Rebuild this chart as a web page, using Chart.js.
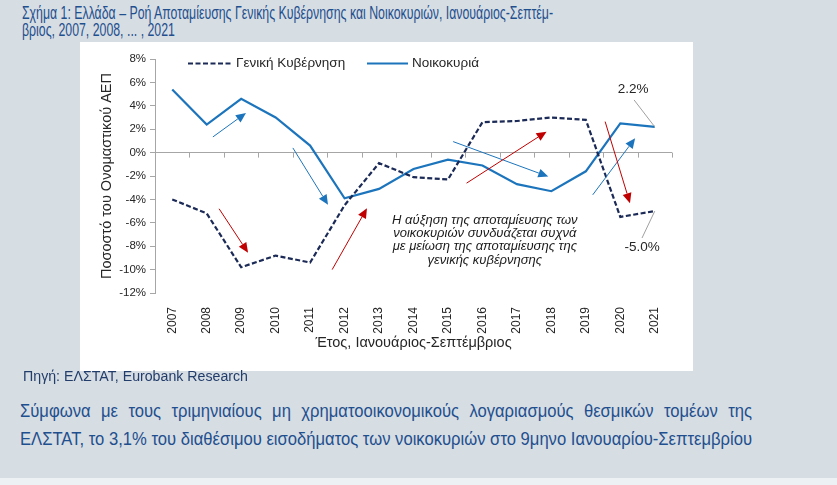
<!DOCTYPE html>
<html>
<head>
<meta charset="utf-8">
<script src="https://cdn.jsdelivr.net/npm/chart.js@4.4.0/dist/chart.umd.min.js"></script>
<style>
  html, body { margin: 0; padding: 0; }
  body { width: 837px; height: 485px; background: #d6dde3; position: relative; overflow: hidden; font-family: "Liberation Sans", Arial, sans-serif; }
  .fit { white-space: nowrap; transform-origin: 0 0; }
  #title { position: absolute; left: 22px; top: 4px; font-size: 18.5px; line-height: 17px; color: #1f4f8e; }
  #panel { position: absolute; left: 80px; top: 42px; width: 613px; height: 329px; background: #ffffff; }
  #source { position: absolute; left: 23px; top: 368px; font-size: 14px; color: #233d6b; }
  #para { position: absolute; left: 20px; top: 397px; font-size: 17.5px; line-height: 28px; color: #1f4f8e; transform-origin: 0 0; }
  #para .l1 { text-align: justify; text-align-last: justify; white-space: nowrap; }
  #para .l2 { white-space: nowrap; display: inline-block; }
  #foot { position: absolute; left: 0; top: 478px; width: 837px; height: 7px; background: #eef1f3; }
</style>
</head>
<body>
<div id="title"><div class="fit" id="t1">Σχήμα 1: Ελλάδα – Ροή Αποταμίευσης Γενικής Κυβέρνησης και Νοικοκυριών, Ιανουάριος-Σεπτέμ-</div><div class="fit" id="t2">βριος, 2007, 2008, ... , 2021</div></div>
<div id="panel"><canvas id="chart" width="613" height="329"></canvas></div>
<div id="source" class="fit">Πηγή: ΕΛΣΤΑΤ, Eurobank Research</div>
<div id="para"><div class="l1">Σύμφωνα με τους τριμηνιαίους μη χρηματοοικονομικούς λογαριασμούς θεσμικών τομέων της</div><span class="l2">ΕΛΣΤΑΤ, το 3,1% του διαθέσιμου εισοδήματος των νοικοκυριών στο 9μηνο Ιανουαρίου-Σεπτεμβρίου</span></div>
<div id="foot"></div>
<script>
const years = ['2007','2008','2009','2010','2011','2012','2013','2014','2015','2016','2017','2018','2019','2020','2021'];
const government = [-4.0, -5.2, -9.8, -8.8, -9.4, -4.5, -0.9, -2.1, -2.3, 2.6, 2.7, 3.0, 2.8, -5.5, -5.0];
const households = [5.4, 2.4, 4.6, 3.0, 0.6, -3.9, -3.1, -1.4, -0.6, -1.1, -2.7, -3.3, -1.6, 2.5, 2.2];
const yTicks = [-12, -10, -8, -6, -4, -2, 0, 2, 4, 6, 8];

// arrows: [x0, y0, x1, y1] in (category index, value)
const blueArrows = [[1.18, 1.34, 2.14, 3.39], [3.50, 0.40, 4.52, -4.46], [8.15, 0.94, 10.91, -2.05], [12.20, -3.61, 13.43, 1.23]];
const redArrows = [[1.36, -4.80, 2.20, -8.56], [4.64, -10.0, 5.65, -4.75], [8.54, -2.61, 10.86, 1.79], [12.56, 2.65, 13.28, -4.32]];
const noteLines = ['Η αύξηση της αποταμίευσης των', 'νοικοκυριών συνδυάζεται συχνά', 'με μείωση της αποταμίευσης της', 'γενικής κυβέρνησης'];

const navy = '#1b2a56';
const blue = '#1c75bc';
const red = '#c00000';
const grey = '#a6a6a6';
const font = '"Liberation Sans", Arial, sans-serif';

// squeeze/stretch a single-line text to a given width
function fitWidth(el, w) {
    el.style.display = 'inline-block';
    const s = w / el.getBoundingClientRect().width;
    el.style.transform = 'scaleX(' + s + ')';
    return s;
}
const titleScale = fitWidth(document.getElementById('t1'), 531);
document.getElementById('t2').style.transform = 'scaleX(' + titleScale + ')';
fitWidth(document.getElementById('source'), 225);
(function() {
    const para = document.getElementById('para');
    const l2 = para.querySelector('.l2');
    const s = 732 / l2.getBoundingClientRect().width;
    para.style.width = (732 / s) + 'px';
    para.style.transform = 'scaleX(' + s + ')';
})();

function arrow(ctx, x0, y0, x1, y1, color) {
    const ang = Math.atan2(y1 - y0, x1 - x0);
    const len = 10, half = 4.5;
    const bx = x1 - len * Math.cos(ang), by = y1 - len * Math.sin(ang);
    ctx.strokeStyle = color;
    ctx.fillStyle = color;
    ctx.lineWidth = 1;
    ctx.beginPath();
    ctx.moveTo(x0, y0);
    ctx.lineTo(bx, by);
    ctx.stroke();
    ctx.beginPath();
    ctx.moveTo(x1, y1);
    ctx.lineTo(bx + half * Math.sin(ang), by - half * Math.cos(ang));
    ctx.lineTo(bx - half * Math.sin(ang), by + half * Math.cos(ang));
    ctx.closePath();
    ctx.fill();
}

const extras = {
    id: 'extras',
    afterDatasetsDraw(chart) {
        const ctx = chart.ctx;
        const xs = chart.scales.x, ys = chart.scales.y;
        const px = (i) => xs.left + (xs.right - xs.left) * (i + 0.5) / years.length;
        const py = (v) => ys.getPixelForValue(v);
        ctx.save();

        // tick marks along the zero line
        ctx.strokeStyle = grey;
        ctx.lineWidth = 1;
        for (let i = 0; i <= years.length; i++) {
            const x = Math.round(xs.left + (xs.right - xs.left) * i / years.length) + 0.5;
            ctx.beginPath();
            ctx.moveTo(x, py(0));
            ctx.lineTo(x, py(0) + 5);
            ctx.stroke();
        }

        blueArrows.forEach(a => arrow(ctx, px(a[0]), py(a[1]), px(a[2]), py(a[3]), blue));
        redArrows.forEach(a => arrow(ctx, px(a[0]), py(a[1]), px(a[2]), py(a[3]), red));

        // leader lines + end labels
        const last = years.length - 1;
        ctx.strokeStyle = '#a0a0a0';
        ctx.beginPath();
        ctx.moveTo(px(13.40), py(4.5));
        ctx.lineTo(px(last), py(households[last]));
        ctx.moveTo(px(13.63), py(-7.3));
        ctx.lineTo(px(last), py(government[last]));
        ctx.stroke();
        ctx.fillStyle = '#262626';
        ctx.font = '13.5px ' + font;
        ctx.textAlign = 'center';
        ctx.textBaseline = 'middle';
        ctx.fillText(households[last].toFixed(1) + '%', px(13.37), py(5.4));
        ctx.fillText(government[last].toFixed(1) + '%', px(13.63), py(-8.1));

        // note
        ctx.font = 'italic 13px ' + font;
        ctx.fillStyle = '#1a1a1a';
        noteLines.forEach((t, i) => ctx.fillText(t, px(9.07), py(-5.8) + i * 13.2));

        // legend
        const ly = ys.top + 4.5;
        ctx.lineWidth = 2.2;
        ctx.strokeStyle = navy;
        ctx.setLineDash([5, 2.5]);
        ctx.beginPath();
        ctx.moveTo(xs.left + 33, ly);
        ctx.lineTo(xs.left + 77, ly);
        ctx.stroke();
        ctx.setLineDash([]);
        ctx.strokeStyle = blue;
        ctx.beginPath();
        ctx.moveTo(xs.left + 212, ly);
        ctx.lineTo(xs.left + 253, ly);
        ctx.stroke();
        ctx.font = '13.5px ' + font;
        ctx.fillStyle = '#262626';
        ctx.textAlign = 'left';
        ctx.fillText('Γενική Κυβέρνηση', xs.left + 81, ly);
        ctx.fillText('Νοικοκυριά', xs.left + 257, ly);
        ctx.restore();
    }
};

new Chart(document.getElementById('chart'), {
    type: 'line',
    data: {
        labels: years,
        datasets: [
            {
                label: 'Γενική Κυβέρνηση',
                data: government,
                borderColor: navy,
                borderWidth: 2.2,
                borderDash: [5, 2.5],
                pointRadius: 0,
                tension: 0
            },
            {
                label: 'Νοικοκυριά',
                data: households,
                borderColor: blue,
                borderWidth: 2.2,
                pointRadius: 0,
                tension: 0
            }
        ]
    },
    options: {
        responsive: false,
        animation: false,
        layout: { padding: { top: 17, right: 21, left: 0, bottom: 0 } },
        plugins: { legend: { display: false }, tooltip: { enabled: false } },
        scales: {
            x: {
                offset: true,
                grid: { display: false },
                border: { display: false },
                ticks: { minRotation: 90, maxRotation: 90, padding: 6, color: '#262626', font: { family: font, size: 12 } },
                title: { display: true, text: 'Έτος, Ιανουάριος-Σεπτέμβριος', color: '#262626', font: { family: font, size: 14.5 }, padding: { top: 4, bottom: 19 } },
                afterFit: (s) => { s.height = 78; }
            },
            y: {
                min: -12,
                max: 8,
                afterBuildTicks: (s) => { s.ticks = yTicks.map(v => ({ value: v })); },
                grid: {
                    color: (c) => c.tick && c.tick.value === 0 ? grey : 'rgba(0,0,0,0)',
                    tickColor: grey,
                    tickLength: 5
                },
                border: { display: true, color: grey },
                ticks: { color: '#262626', padding: 4, font: { family: font, size: 11.5 }, callback: (v) => v + '%' },
                title: { display: true, text: 'Ποσοστό του Ονομαστικού ΑΕΠ', color: '#262626', font: { family: font, size: 14.5 }, padding: { top: 18, bottom: 0 } },
                afterFit: (s) => { s.width = 75; }
            }
        }
    },
    plugins: [extras]
});
</script>
</body>
</html>
